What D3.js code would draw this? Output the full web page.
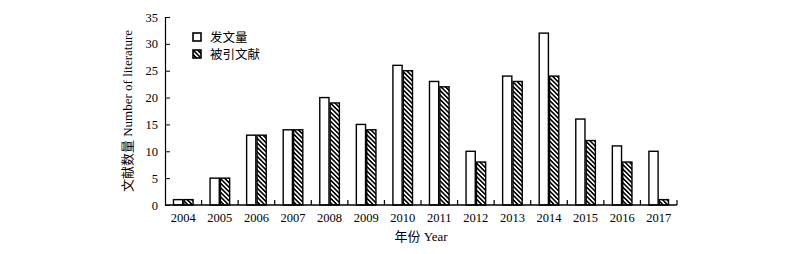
<!DOCTYPE html>
<html>
<head>
<meta charset="utf-8">
<script src="https://cdn.jsdelivr.net/npm/d3@7"></script>
<style>
  body { margin: 0; background: #fff; }
  svg text { font-family: "Liberation Serif", "Noto Sans CJK SC", serif; fill: #000; }
</style>
</head>
<body>
<svg id="chart" width="800" height="254"></svg>
<script>
// ─── data ────────────────────────────────────────────
const years = ['2004','2005','2006','2007','2008','2009','2010','2011','2012','2013','2014','2015','2016','2017'];
const published = [1, 5, 13, 14, 20, 15, 26, 23, 10, 24, 32, 16, 11, 10];
const cited     = [1, 5, 13, 14, 19, 14, 25, 22, 8, 23, 24, 12, 8, 1];
const seriesNames = ['发文量', '被引文献'];
const yTicks = [0, 5, 10, 15, 20, 25, 30, 35];

const svg = d3.select('#chart');
const mLeft = 165, mRight = 677, mTop = 17, mBottom = 205;

// hatch pattern for cited bars
const defs = svg.append('defs');
const pat = defs.append('pattern')
  .attr('id', 'hatch')
  .attr('patternUnits', 'userSpaceOnUse')
  .attr('width', 3.2).attr('height', 3.2)
  .attr('patternTransform', 'rotate(-45)');
pat.append('rect').attr('width', 3.2).attr('height', 3.2).attr('fill', '#fff');
pat.append('rect').attr('width', 1.6).attr('height', 3.2).attr('fill', '#000');

const x = d3.scaleBand().domain(years).range([mLeft, mRight]).padding(0);
const y = d3.scaleLinear().domain([0, 35]).range([mBottom, mTop]);
const barW = 9.2, gap = 1.2;

const rows = years.map((yr, i) => ({ yr, a: published[i], b: cited[i] }));

const g = svg.append('g');

// published bars
g.selectAll('.pub').data(rows).enter().append('rect')
  .attr('x', d => x(d.yr) + x.bandwidth() / 2 - barW - gap / 2)
  .attr('y', d => y(d.a))
  .attr('width', barW)
  .attr('height', d => y(0) - y(d.a))
  .attr('fill', '#fff').attr('stroke', '#000').attr('stroke-width', 1.4);

// cited bars
g.selectAll('.cit').data(rows).enter().append('rect')
  .attr('x', d => x(d.yr) + x.bandwidth() / 2 + gap / 2)
  .attr('y', d => y(d.b))
  .attr('width', barW)
  .attr('height', d => y(0) - y(d.b))
  .attr('fill', 'url(#hatch)').attr('stroke', '#000').attr('stroke-width', 1.4);

// y axis, ticks inward
const yAxis = svg.append('g').attr('transform', `translate(${mLeft},0)`)
  .call(d3.axisRight(y).tickValues(yTicks).tickSize(5).tickFormat(''));
yAxis.select('.domain').attr('stroke-width', 1.2);
svg.append('g').selectAll('text').data(yTicks).enter().append('text')
  .attr('x', mLeft - 7).attr('y', d => y(d) + 4.5)
  .attr('text-anchor', 'end').attr('font-size', 12.5)
  .text(d => d);

// x axis, ticks between categories pointing up
svg.append('line')
  .attr('x1', mLeft).attr('x2', mRight).attr('y1', mBottom).attr('y2', mBottom)
  .attr('stroke', '#000').attr('stroke-width', 1.4);
svg.append('g').selectAll('line').data(years.slice(1)).enter().append('line')
  .attr('x1', d => x(d)).attr('x2', d => x(d))
  .attr('y1', mBottom).attr('y2', mBottom - 5)
  .attr('stroke', '#000').attr('stroke-width', 1.2);
svg.append('line')
  .attr('x1', mRight).attr('x2', mRight).attr('y1', mBottom).attr('y2', mBottom - 5)
  .attr('stroke', '#000').attr('stroke-width', 1.2);
svg.append('g').selectAll('text').data(years).enter().append('text')
  .attr('x', d => x(d) + x.bandwidth() / 2).attr('y', mBottom + 17)
  .attr('text-anchor', 'middle').attr('font-size', 12.5)
  .text(d => d);

// axis titles
svg.append('text')
  .attr('transform', `translate(132,${(mTop + mBottom) / 2}) rotate(-90)`)
  .attr('text-anchor', 'middle').attr('font-size', 13)
  .text('文献数量 Number of literature');
svg.append('text')
  .attr('x', (mLeft + mRight) / 2).attr('y', 241)
  .attr('text-anchor', 'middle').attr('font-size', 13)
  .text('年份 Year');

// legend
const leg = svg.append('g').attr('transform', 'translate(193,33)');
const fills = ['#fff', 'url(#hatch)'];
seriesNames.forEach((name, i) => {
  leg.append('rect')
    .attr('x', 0).attr('y', i * 17)
    .attr('width', 8).attr('height', 8)
    .attr('fill', fills[i]).attr('stroke', '#000').attr('stroke-width', 1.6);
  leg.append('text')
    .attr('x', 17).attr('y', i * 17 + 8.5)
    .attr('font-size', 12.5)
    .text(name);
});
</script>
</body>
</html>
